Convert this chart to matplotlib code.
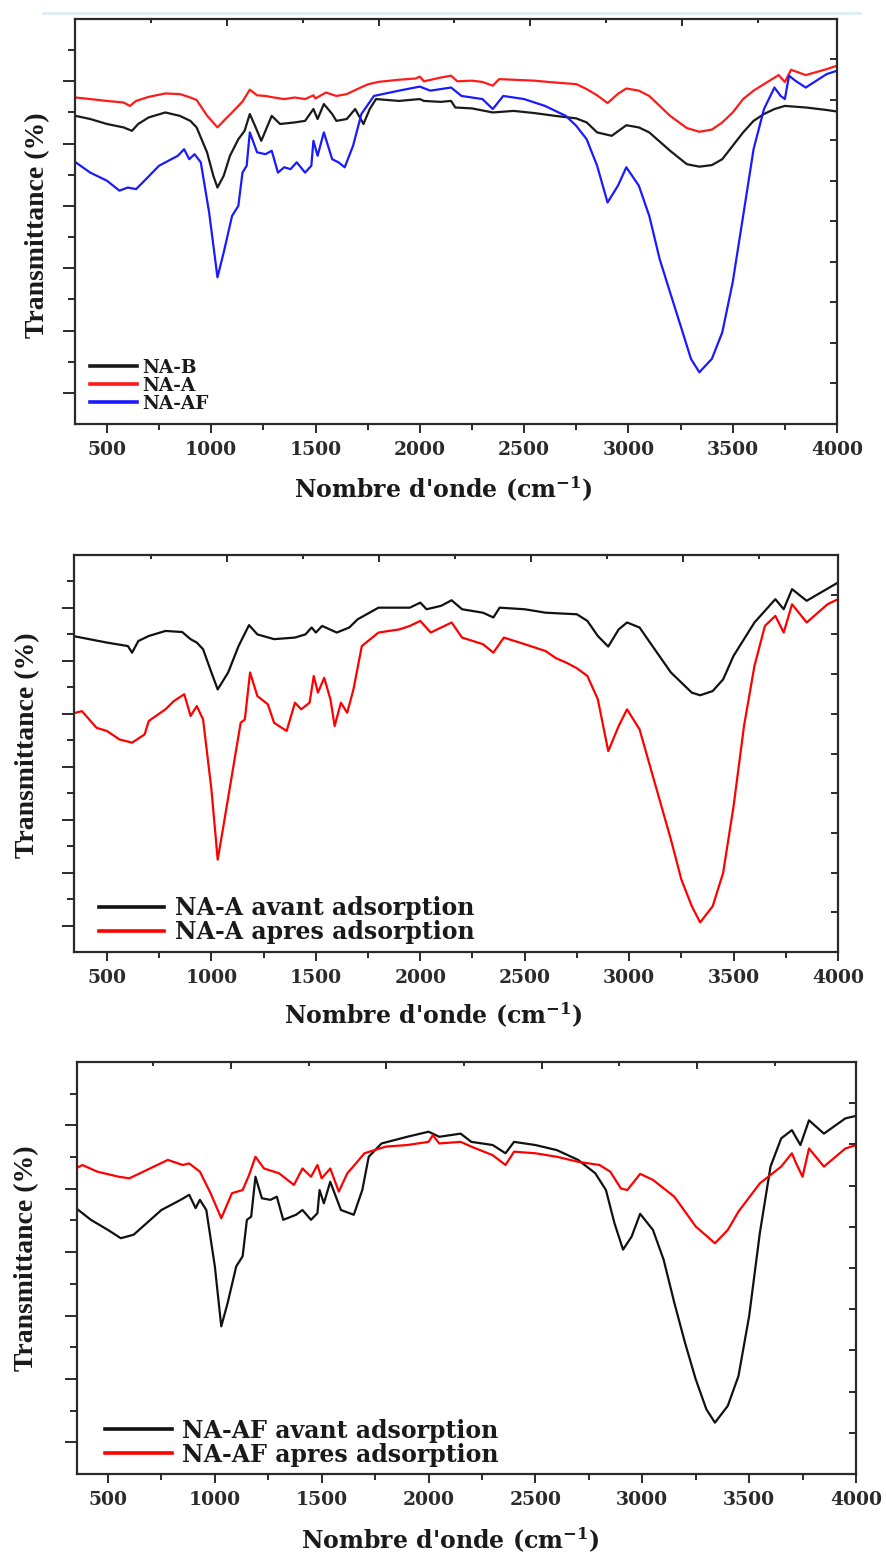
import numpy as np
import matplotlib.pyplot as plt
from matplotlib.lines import Line2D
from matplotlib.ticker import FixedLocator, MultipleLocator, NullFormatter

# ---- panel 1 : NA-B / NA-A / NA-AF ----
wn_nab = [350, 420, 500, 580, 620, 650, 700, 780, 850, 900, 930, 980, 1010, 1030, 1060, 1090,
          1130, 1160, 1185, 1210, 1240, 1290, 1330, 1400, 1450, 1490, 1510, 1540, 1580, 1600,
          1650, 1690, 1730, 1760, 1790, 1900, 2000, 2020, 2100, 2150, 2170, 2250, 2350, 2450,
          2550, 2650, 2750, 2800, 2850, 2920, 2990, 3050, 3100, 3200, 3280, 3340, 3400, 3450,
          3500, 3550, 3600, 3650, 3700, 3750, 3850, 3950, 4000]
t_nab = [9.89, 9.79, 9.63, 9.52, 9.41, 9.63, 9.84, 10.00, 9.89, 9.73, 9.52, 8.72, 7.97, 7.59,
         7.97, 8.61, 9.14, 9.41, 9.95, 9.57, 9.09, 9.89, 9.63, 9.68, 9.73, 10.11, 9.79, 10.27,
         9.95, 9.73, 9.79, 10.11, 9.63, 10.11, 10.43, 10.37, 10.43, 10.37, 10.34, 10.37, 10.16,
         10.13, 10.00, 10.05, 9.98, 9.89, 9.81, 9.68, 9.36, 9.25, 9.59, 9.52, 9.36, 8.77, 8.34,
         8.26, 8.31, 8.50, 8.93, 9.36, 9.73, 9.95, 10.11, 10.21, 10.16, 10.08, 10.03]

wn_naa = [350, 420, 500, 580, 610, 640, 700, 780, 850, 900, 930, 980, 1030, 1070, 1100, 1150,
          1185, 1220, 1260, 1300, 1350, 1400, 1450, 1490, 1500, 1550, 1600, 1650, 1700, 1750,
          1800, 1900, 1980, 2000, 2020, 2100, 2150, 2180, 2250, 2300, 2350, 2380, 2450, 2550,
          2650, 2750, 2800, 2850, 2900, 2950, 2990, 3050, 3100, 3200, 3280, 3340, 3400, 3450,
          3500, 3550, 3600, 3650, 3720, 3750, 3780, 3850, 3950, 4000]
t_naa = [10.48, 10.43, 10.37, 10.32, 10.21, 10.37, 10.50, 10.61, 10.59, 10.48, 10.40, 9.90,
         9.52, 9.80, 10.00, 10.35, 10.73, 10.55, 10.53, 10.48, 10.43, 10.48, 10.43, 10.55, 10.45,
         10.64, 10.53, 10.59, 10.75, 10.90, 10.98, 11.05, 11.09, 11.15, 11.00, 11.12, 11.18,
         11.00, 11.02, 10.98, 10.86, 11.07, 11.05, 11.02, 10.96, 10.91, 10.75, 10.55, 10.30,
         10.60, 10.77, 10.70, 10.53, 9.89, 9.50, 9.38, 9.45, 9.68, 10.00, 10.43, 10.70, 10.91,
         11.20, 10.98, 11.37, 11.20, 11.39, 11.50]

wn_naaf = [350, 420, 500, 560, 600, 640, 680, 750, 840, 870, 895, 920, 950, 990, 1030, 1060,
           1100, 1130, 1150, 1170, 1185, 1220, 1260, 1290, 1320, 1350, 1380, 1410, 1450, 1480,
           1490, 1510, 1540, 1580, 1610, 1640, 1680, 1720, 1780, 1900, 2000, 2050, 2150, 2200,
           2300, 2350, 2400, 2500, 2600, 2700, 2750, 2800, 2850, 2900, 2950, 2990, 3050, 3100,
           3150, 3200, 3250, 3300, 3340, 3400, 3450, 3500, 3550, 3600, 3650, 3700, 3730, 3750,
           3770, 3800, 3850, 3950, 4000]
t_naaf = [8.40, 8.07, 7.81, 7.49, 7.59, 7.54, 7.81, 8.29, 8.61, 8.82, 8.50, 8.66, 8.40, 6.79,
          4.71, 5.51, 6.68, 7.00, 8.07, 8.29, 9.36, 8.72, 8.66, 8.77, 8.07, 8.24, 8.18, 8.40,
          8.07, 8.29, 9.09, 8.61, 9.36, 8.50, 8.40, 8.24, 8.93, 9.95, 10.53, 10.70, 10.83, 10.70,
          10.80, 10.53, 10.43, 10.11, 10.53, 10.43, 10.21, 9.89, 9.57, 9.14, 8.29, 7.11, 7.65,
          8.24, 7.65, 6.68, 5.29, 4.22, 3.16, 2.09, 1.66, 2.09, 2.94, 4.55, 6.68, 8.82, 10.11,
          10.80, 10.53, 10.43, 11.18, 11.02, 10.80, 11.23, 11.34]

# ---- panel 2 : NA-A avant / apres ----
wn_a_av = [350, 500, 600, 620, 650, 700, 780, 860, 900, 930, 960, 1000, 1030, 1080, 1130, 1180,
           1220, 1300, 1400, 1450, 1480, 1500, 1530, 1600, 1660, 1700, 1800, 1950, 2000, 2030,
           2100, 2150, 2200, 2300, 2350, 2380, 2500, 2600, 2750, 2800, 2850, 2900, 2950, 2990,
           3050, 3100, 3200, 3300, 3340, 3400, 3450, 3500, 3600, 3700, 3740, 3780, 3850, 3950, 4000]
t_a_av = [11.92, 11.69, 11.56, 11.31, 11.75, 11.94, 12.13, 12.09, 11.82, 11.69, 11.44, 10.56,
          9.92, 10.56, 11.56, 12.35, 12.00, 11.82, 11.88, 12.00, 12.26, 12.07, 12.32, 12.07,
          12.26, 12.57, 13.01, 13.01, 13.20, 12.95, 13.08, 13.29, 12.95, 12.82, 12.64, 13.01,
          12.95, 12.82, 12.76, 12.51, 11.94, 11.54, 12.19, 12.45, 12.26, 11.69, 10.56, 9.80,
          9.70, 9.86, 10.30, 11.19, 12.45, 13.33, 12.95, 13.71, 13.27, 13.73, 13.96]

wn_a_ap = [350, 380, 450, 500, 560, 620, 680, 700, 780, 820, 870, 900, 930, 960, 1000, 1030,
           1060, 1100, 1140, 1160, 1185, 1220, 1270, 1300, 1360, 1400, 1430, 1470, 1490, 1510,
           1540, 1570, 1590, 1620, 1650, 1680, 1720, 1800, 1900, 1950, 2000, 2050, 2150, 2200,
           2300, 2350, 2400, 2500, 2600, 2650, 2700, 2750, 2800, 2850, 2900, 2950, 2990, 3050,
           3100, 3200, 3250, 3300, 3340, 3400, 3450, 3500, 3550, 3600, 3650, 3700, 3740, 3780,
           3850, 3950, 4000]
t_a_ap = [9.04, 9.10, 8.47, 8.35, 8.03, 7.91, 8.22, 8.73, 9.17, 9.48, 9.74, 8.92, 9.29, 8.79,
          6.14, 3.49, 4.88, 6.77, 8.66, 8.79, 10.56, 9.67, 9.36, 8.66, 8.35, 9.42, 9.17, 9.42,
          10.43, 9.80, 10.36, 9.54, 8.54, 9.42, 9.04, 9.92, 11.56, 12.07, 12.19, 12.32, 12.51,
          12.07, 12.45, 11.88, 11.63, 11.31, 11.88, 11.63, 11.37, 11.10, 10.93, 10.72, 10.43,
          9.55, 7.59, 8.54, 9.17, 8.41, 7.02, 4.25, 2.74, 1.73, 1.12, 1.73, 2.99, 5.51, 8.54,
          10.81, 12.32, 12.70, 12.07, 13.14, 12.45, 13.14, 13.33]

# ---- panel 3 : NA-AF avant / apres ----
wn_af_av = [350, 420, 500, 560, 620, 680, 750, 840, 880, 910, 930, 960, 1000, 1030, 1060, 1100,
            1130, 1150, 1170, 1190, 1220, 1260, 1290, 1320, 1380, 1410, 1450, 1480, 1490, 1510,
            1540, 1590, 1650, 1690, 1720, 1780, 1900, 2000, 2050, 2150, 2200, 2300, 2360, 2400,
            2500, 2600, 2700, 2780, 2830, 2870, 2910, 2950, 2990, 3050, 3100, 3150, 3200, 3250,
            3300, 3340, 3400, 3450, 3500, 3550, 3600, 3650, 3700, 3740, 3780, 3850, 3950, 4000]
t_af_av = [8.39, 8.02, 7.70, 7.44, 7.55, 7.91, 8.33, 8.65, 8.81, 8.39, 8.65, 8.33, 6.55, 4.66,
           5.40, 6.55, 6.87, 8.02, 8.12, 9.38, 8.70, 8.65, 8.75, 8.02, 8.18, 8.33, 8.02, 8.23,
           8.96, 8.54, 9.22, 8.33, 8.18, 8.96, 10.01, 10.43, 10.64, 10.80, 10.64, 10.74, 10.48,
           10.38, 10.12, 10.48, 10.38, 10.22, 9.91, 9.49, 8.96, 7.91, 7.08, 7.49, 8.21, 7.70,
           6.76, 5.40, 4.14, 2.99, 2.04, 1.62, 2.15, 3.09, 4.98, 7.60, 9.70, 10.59, 10.85, 10.38,
           11.16, 10.74, 11.22, 11.30]

wn_af_ap = [350, 380, 450, 550, 600, 650, 780, 850, 880, 930, 980, 1030, 1080, 1130, 1160, 1190,
            1230, 1300, 1370, 1410, 1450, 1480, 1500, 1540, 1580, 1620, 1660, 1700, 1800, 1900,
            2000, 2020, 2050, 2150, 2200, 2300, 2360, 2400, 2500, 2600, 2700, 2800, 2850, 2900,
            2930, 2990, 3050, 3150, 3250, 3340, 3400, 3450, 3550, 3650, 3700, 3720, 3750, 3780,
            3850, 3950, 4000]
t_af_ap = [9.64, 9.75, 9.54, 9.38, 9.33, 9.49, 9.91, 9.75, 9.80, 9.54, 8.86, 8.07, 8.86, 8.96,
           9.43, 10.01, 9.64, 9.49, 9.12, 9.64, 9.38, 9.75, 9.33, 9.64, 8.91, 9.49, 9.80, 10.12,
           10.33, 10.38, 10.48, 10.69, 10.43, 10.48, 10.33, 10.06, 9.75, 10.17, 10.12, 10.01,
           9.85, 9.75, 9.54, 9.01, 8.96, 9.47, 9.28, 8.75, 7.81, 7.28, 7.70, 8.28, 9.17, 9.70,
           10.12, 9.80, 9.38, 10.27, 9.70, 10.27, 10.38]

W, H = 886, 1552
fig = plt.figure(figsize=(W / 100, H / 100), dpi=100)

serif = 'DejaVu Serif'
plt.rcParams['mathtext.fontset'] = 'dejavuserif'
edge = '#2a2a2a'


def make_panel(box, xmin, ymax, right_step, series, leg):
    l, t, r, b = box
    ax = fig.add_axes([l / W, 1 - b / H, (r - l) / W, (b - t) / H])
    for wn, tr, c, lab in series:
        ax.plot(wn, tr, color=c, lw=1.6, label=lab)
    ax.set_xlim(xmin, 4000)
    ax.set_ylim(0, ymax)
    for s in ax.spines.values():
        s.set_linewidth(1.6)
        s.set_color(edge)

    ax.xaxis.set_major_locator(MultipleLocator(500))
    ax.xaxis.set_minor_locator(MultipleLocator(250))
    ax.yaxis.set_major_locator(FixedLocator(np.arange(1, ymax, 2)))
    ax.yaxis.set_minor_locator(FixedLocator(np.arange(2, ymax, 2)))
    ax.yaxis.set_major_formatter(NullFormatter())
    ax.tick_params(axis='x', which='major', length=6.5, width=1.4, color=edge, pad=6)
    ax.tick_params(axis='x', which='minor', length=4.3, width=1.4, color=edge)
    ax.tick_params(axis='y', which='major', length=8.5, width=1.4, color=edge)
    ax.tick_params(axis='y', which='minor', length=5, width=1.4, color=edge)
    for lb in ax.get_xticklabels():
        lb.set_fontfamily(serif)
        lb.set_fontweight('bold')
        lb.set_fontsize(13.5)
        lb.set_color('#2a2a2a')

    # top ticks (inward, own spacing)
    top = ax.secondary_xaxis('top')
    top.xaxis.set_major_locator(FixedLocator(711 + 363.7 * np.arange(1, 9, 2)))
    top.xaxis.set_minor_locator(FixedLocator(711 + 363.7 * np.arange(0, 9, 2)))
    top.tick_params(which='major', direction='in', length=5, width=1.4, color=edge, labeltop=False)
    top.tick_params(which='minor', direction='in', length=3, width=1.4, color=edge)
    top.spines['top'].set_visible(False)

    # right ticks (inward)
    rt = ax.secondary_yaxis('right')
    rt.yaxis.set_major_locator(FixedLocator(right_step * np.arange(1, 10)))
    rt.yaxis.set_minor_locator(FixedLocator([]))
    rt.tick_params(direction='in', length=5, width=1.4, color=edge, labelright=False)
    rt.spines['right'].set_visible(False)

    ax.set_xlabel("Nombre d'onde (cm$^{\\mathbf{-1}}$)", fontfamily=serif,
                  fontweight='bold', fontsize=17, color='#1a1a1a')
    ax.xaxis.set_label_coords(leg['xl'][0], leg['xl'][1])
    ax.set_ylabel('Transmittance (%)', fontfamily='Liberation Serif',
                  fontweight='bold', fontsize=20, color='#1a1a1a')
    ax.yaxis.set_label_coords(leg['yl'][0], leg['yl'][1])

    lg = ax.legend(loc='lower left', bbox_to_anchor=leg['anchor'], frameon=False,
                   borderpad=0, borderaxespad=0, handlelength=leg['hl'],
                   handletextpad=leg['htp'], labelspacing=leg['ls'],
                   prop={'family': serif, 'weight': 'bold', 'size': leg['fs']})
    for ln in lg.get_lines():
        ln.set_linewidth(2.6)
    for tx in lg.get_texts():
        tx.set_color('#1a1a1a')
    return ax


make_panel((75, 19, 837, 424), 347, 13, 1.3,
           [(wn_nab, t_nab, '#1a1a1a', 'NA-B'),
            (wn_naa, t_naa, '#ff1a1a', 'NA-A'),
            (wn_naaf, t_naaf, '#1a1aff', 'NA-AF')],
           dict(anchor=(0.0197, 0.028), hl=2.55, htp=0.27, ls=0.0, fs=13.3,
                xl=(0.483, -0.125), yl=(-0.033, 0.49)))

make_panel((74, 555, 838, 952), 342, 15, 1.5,
           [(wn_a_av, t_a_av, '#111111', 'NA-A avant adsorption'),
            (wn_a_ap, t_a_ap, '#ff0000', 'NA-A apres adsorption')],
           dict(anchor=(0.033, 0.02), hl=2.75, htp=0.45, ls=0.0, fs=17,
                xl=(0.47, -0.122), yl=(-0.044, 0.52)))

make_panel((77, 1062, 856, 1474), 355, 13, 1.3,
           [(wn_af_av, t_af_av, '#111111', 'NA-AF avant adsorption'),
            (wn_af_ap, t_af_ap, '#ff0000', 'NA-AF apres adsorption')],
           dict(anchor=(0.036, 0.018), hl=2.85, htp=0.42, ls=0.0, fs=17,
                xl=(0.479, -0.125), yl=(-0.049, 0.524)))

# faint scan line above the first frame
fig.add_artist(Line2D([43 / W, 860 / W], [1 - 13 / H, 1 - 13 / H], color='#dcecf8', lw=2))

fig.savefig('out.png', dpi=100)
